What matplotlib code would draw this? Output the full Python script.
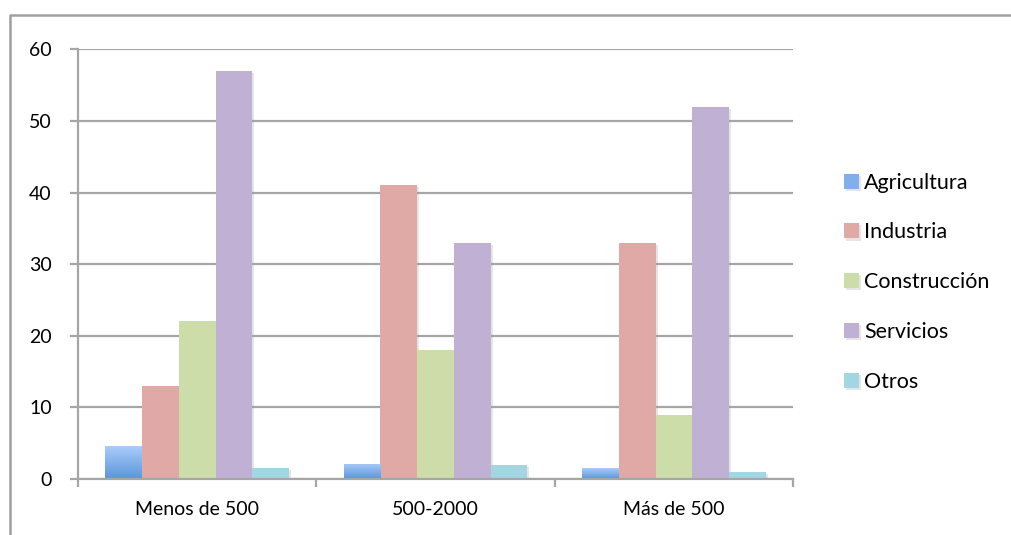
import matplotlib
matplotlib.use('Agg')
from matplotlib import pyplot as plt
from matplotlib.lines import Line2D
from matplotlib.colors import LinearSegmentedColormap
import matplotlib.patheffects as pe
import numpy as np

categories = ['Menos de 500', '500-2000', 'Más de 500']
series = ['Agricultura', 'Industria', 'Construcción', 'Servicios', 'Otros']
agricultura = [4.6, 2.1, 1.5]
industria = [13, 41, 33]
construccion = [22, 18, 9]
servicios = [57, 33, 52]
otros = [1.6, 2.0, 1.0]

colors = ['#7fb0ec', '#e0a9a6', '#cdddaa', '#c0b1d4', '#a2d6e3']


def main():
    plt.rcParams['font.family'] = ['Lato', 'DejaVu Sans']
    fig = plt.figure(figsize=(10.11, 5.35), dpi=100)
    ax = fig.add_axes([0.0772, 0.1047, 0.7072, 0.8032])

    values = [agricultura, industria, construccion, servicios, otros]
    x = np.arange(len(categories))
    width = 0.154
    blue = LinearSegmentedColormap.from_list('blue', ['#5a96d8', '#aacbfb'])

    for i, vals in enumerate(values):
        offs = (i - 2) * width
        bars = ax.bar(x + offs, vals, width, color=colors[i], label=series[i],
                      zorder=3, linewidth=0)
        for b in bars:
            b.set_path_effects([pe.SimplePatchShadow(offset=(1.5, -1.5),
                                                     shadow_rgbFace='#999999',
                                                     alpha=0.25),
                                pe.Normal()])
        if i == 0:
            # vertical gradient fill for the first series
            for b in bars:
                bx, by = b.get_x(), b.get_y()
                bw, bh = b.get_width(), b.get_height()
                grad = np.linspace(0, 1, 64).reshape(-1, 1)
                im = ax.imshow(grad, cmap=blue, aspect='auto', origin='lower',
                               extent=[bx, bx + bw, by, by + bh], zorder=4)
                im.set_clip_path(b)

    ax.set_xlim(-0.5, 2.5)
    ax.set_ylim(0, 60)
    ax.set_yticks(np.arange(0, 61, 10))
    ax.yaxis.grid(True, color='#a6a6a6', linewidth=1.6, zorder=0)
    ax.set_axisbelow(True)

    ax.set_xticks(x)
    ax.set_xticklabels(categories, fontsize=14)
    ax.tick_params(axis='x', length=0, pad=16)
    ax.set_xticks([-0.5, 0.5, 1.5, 2.5], minor=True)
    ax.tick_params(axis='x', which='minor', length=6, width=1.6, color='#a6a6a6')
    ax.tick_params(axis='y', length=6, width=1.6, color='#a6a6a6',
                   labelsize=14, pad=13)

    for s in ['top', 'right']:
        ax.spines[s].set_visible(False)
    for s in ['left', 'bottom']:
        ax.spines[s].set_color('#a6a6a6')
        ax.spines[s].set_linewidth(1.6)
    ax.spines['bottom'].set_zorder(5)

    ax.legend(loc='center left', bbox_to_anchor=(1.044, 0.458),
              frameon=False, fontsize=15.5, handlelength=0.7,
              handleheight=0.7, handletextpad=0.25, labelspacing=1.38)

    # outer chart frame
    fig.add_artist(Line2D([0.0099, 0.0099, 1.0], [0.0, 0.972, 0.972],
                          transform=fig.transFigure, color='#a0a0a0',
                          linewidth=1.8))

    fig.savefig('out.png', dpi=100)


if __name__ == '__main__':
    main()
